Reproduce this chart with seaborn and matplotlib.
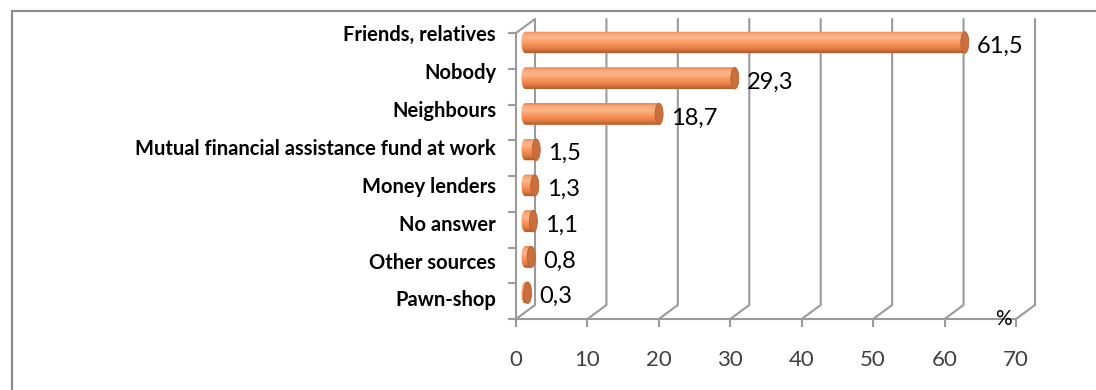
import numpy as np
import pandas as pd
import matplotlib
matplotlib.use("Agg")
import matplotlib.pyplot as plt
import seaborn as sns
from matplotlib.colors import LinearSegmentedColormap
from matplotlib.patches import Ellipse, PathPatch, Rectangle
from matplotlib.path import Path

# Sources of money when short of funds (% of respondents)
categories = ["Friends, relatives", "Nobody", "Neighbours",
              "Mutual financial assistance fund at work", "Money lenders",
              "No answer", "Other sources", "Pawn-shop"]
shares = [61.5, 29.3, 18.7, 1.5, 1.3, 1.1, 0.8, 0.3]
value_labels = ["61,5", "29,3", "18,7", "1,5", "1,3", "1,1", "0,8", "0,3"]
x_ticks = [0, 10, 20, 30, 40, 50, 60, 70]

sns.set_theme(style="white")
plt.rcParams["font.family"] = ["Lato", "DejaVu Sans"]

W, H = 1096, 390
fig = plt.figure(figsize=(W / 100, H / 100), dpi=100)
fig.patch.set_facecolor("white")
ax = fig.add_axes([516 / W, 1 - 319 / H, 500 / W, 286 / H])
ax.set_facecolor("none")

n = len(categories)
df = pd.DataFrame({"source": categories, "share": shares})
sns.barplot(data=df, x="share", y="source", orient="h", color="#F5935A",
            saturation=1, width=0.6, ax=ax, zorder=3)
ax.set_xlim(0, 70)
ax.set_ylim(n - 0.5, -0.5)

# pixel scale of the plotting plane, used for the pseudo-3D depth
px_x = 500 / 70
px_y = 286 / n
depth_x, depth_y = 19 / px_x, 14 / px_y      # back wall offset
bar_dx, bar_dy = 9.5 / px_x, 8.4 / px_y      # bars sit mid-depth
cap_rx = 4 / px_x                            # half width of cylinder ends

grid_c = "#9A9A9A"

# back wall gridlines with their floor connectors
for v in x_ticks:
    ax.plot([v, v + depth_x, v + depth_x],
            [n - 0.5, n - 0.5 - depth_y, -0.5 - depth_y],
            color=grid_c, lw=1.5, clip_on=False, zorder=0.5,
            solid_joinstyle="miter")
# top edge of the side wall
ax.plot([0, depth_x], [-0.5, -0.5 - depth_y], color=grid_c, lw=1.5,
        clip_on=False, zorder=0.5)

# cylinder shading
shade = LinearSegmentedColormap.from_list("cyl", [
    (0.0, "#D47C47"), (0.12, "#F9A676"), (0.32, "#FDB68C"),
    (0.58, "#F7955B"), (0.82, "#E27A40"), (1.0, "#AE572A")])
grad = np.linspace(0, 1, 256).reshape(-1, 1)

bars = list(ax.patches)
for p, lab in zip(bars, value_labels):
    p.set_x(p.get_x() + bar_dx)
    p.set_y(p.get_y() - bar_dy)
    x0, y0 = p.get_x(), p.get_y()
    w, h = p.get_width(), p.get_height()
    x1, yc = x0 + w, y0 + h / 2
    p.set_visible(False)

    theta = np.linspace(np.pi / 2, 3 * np.pi / 2, 40)
    verts = [(x0 + cap_rx * np.cos(t), yc - (h / 2) * np.sin(t)) for t in theta]
    verts += [(x1, yc + h / 2), (x1, yc - h / 2), verts[0]]
    codes = [Path.MOVETO] + [Path.LINETO] * (len(verts) - 2) + [Path.CLOSEPOLY]
    body = PathPatch(Path(verts, codes), facecolor="#F5935A",
                     edgecolor="none", zorder=3, clip_on=False)
    ax.add_patch(body)
    im = ax.imshow(grad, cmap=shade, aspect="auto", interpolation="bicubic",
                   extent=(x0 - cap_rx, x1, yc + h / 2, yc - h / 2),
                   origin="upper", zorder=3.1)
    im.set_clip_path(body)

    ax.add_patch(Ellipse((x1, yc), 2 * cap_rx, h, facecolor="#C96F3E",
                         edgecolor="#B9612F", lw=0.6, zorder=3.2,
                         clip_on=False))

    ax.text(x1 + 12 / px_x, yc + 4 / px_y, lab, ha="left", va="center",
            fontsize=17, color="black", zorder=5)

ax.set_xlim(0, 70)
ax.set_ylim(n - 0.5, -0.5)

# category names
label_rows = np.arange(n) * 1.06 - 0.44
for name, yy in zip(categories, label_rows):
    ax.text(-20 / px_x, yy, name, ha="right", va="center", fontsize=14.5,
            fontweight="bold", color="black", clip_on=False)

ax.set_xticks(x_ticks)
ax.set_xticklabels([str(t) for t in x_ticks])
ax.set_yticks(np.arange(-0.5, n, 1))
ax.set_yticklabels([])
ax.set_xlabel("")
ax.set_ylabel("")
ax.tick_params(axis="x", direction="out", length=6, width=1.5, color=grid_c,
               labelsize=16, labelcolor="#404040", pad=16, bottom=True)
ax.tick_params(axis="y", direction="out", length=6, width=1.5, color=grid_c,
               left=True)
for side in ("top", "right"):
    ax.spines[side].set_visible(False)
for side in ("left", "bottom"):
    ax.spines[side].set_visible(True)
    ax.spines[side].set_color(grid_c)
    ax.spines[side].set_linewidth(1.5)
    ax.spines[side].set_zorder(4)

ax.text(70 - 13 / px_x, n - 0.5, "%", ha="center", va="center",
        fontsize=15, color="black", clip_on=False, zorder=5)

# outer frame
fig.add_artist(Rectangle((11.5 / W, -0.2), 1.5, 1 - 10.5 / H + 0.2,
                         transform=fig.transFigure, fill=False,
                         edgecolor="#8C8C8C", lw=1.6))

fig.savefig("out.png", dpi=100)
